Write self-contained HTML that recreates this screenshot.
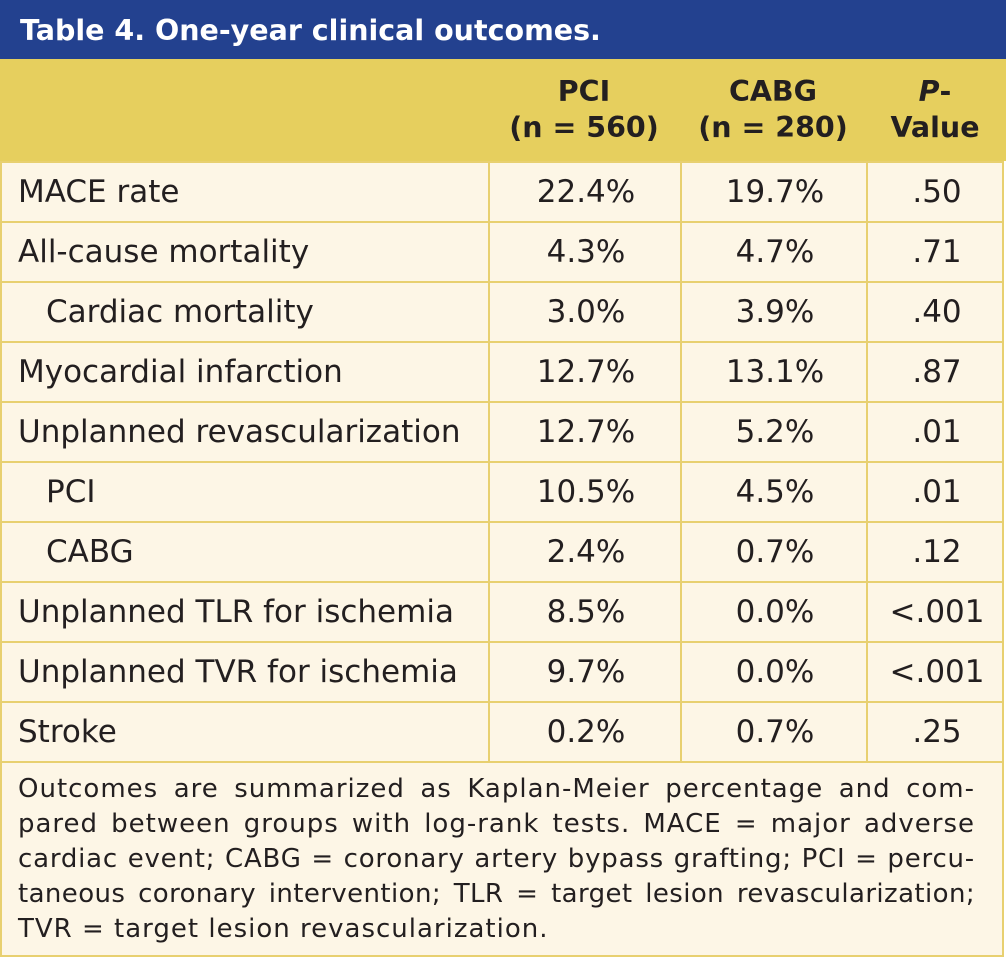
<!DOCTYPE html>
<html><head><meta charset="utf-8"><style>
body{margin:0;width:1006px;height:958px;background:#fff;font-family:"DejaVu Sans","Liberation Sans",sans-serif;color:#231f20;overflow:hidden}
#t{position:absolute;left:0;top:0;width:1004px;height:957px;background:#fdf6e6;border-right:2px solid #e8d070;border-bottom:2px solid #e8d070;box-sizing:border-box}
.title{position:absolute;left:0;top:0;width:1006px;height:59px;background:#23418f;color:#fff;font-weight:bold;font-size:28.5px;line-height:62px;padding-left:20px;box-sizing:border-box}
.head{position:absolute;left:0;top:59px;width:1006px;height:102px;background:#e6cf5e}
.h{position:absolute;top:74px;font-weight:bold;font-size:28.5px;line-height:36px;text-align:center}
.row{position:absolute;left:0;width:1004px;height:60px;border-top:2px solid #e8d070;box-sizing:border-box;font-size:31px;line-height:58px}
.row div{position:absolute;top:0;height:58px}
.c0{left:18px}
.c1,.c2,.c3{text-align:center;border-left:2px solid #e8d070}
.c1{left:488px;width:192px}.c2{left:680px;width:186px}.c3{left:866px;width:138px}
.note{position:absolute;left:18px;top:772px;width:957px;font-size:26px;line-height:35px;letter-spacing:1px}
.note div{white-space:nowrap;text-align:justify;text-align-last:justify}
.note div.last{text-align:left;text-align-last:left}
.lb{position:absolute;left:0;top:161px;width:2px;height:796px;background:#e8d070}
</style></head><body>
<div id="t">
<div class="title">Table 4. One-year clinical outcomes.</div>
<div class="head"></div>
<div class="h" style="left:488px;width:192px">PCI<br>(n = 560)</div>
<div class="h" style="left:680px;width:186px">CABG<br>(n = 280)</div>
<div class="h" style="left:866px;width:138px"><i>P</i>-<br>Value</div>
<div class="lb"></div>
<div class="row" style="top:161px"><div class="c0">MACE rate</div><div class="c1">22.4%</div><div class="c2">19.7%</div><div class="c3">.50</div></div>
<div class="row" style="top:221px"><div class="c0">All-cause mortality</div><div class="c1">4.3%</div><div class="c2">4.7%</div><div class="c3">.71</div></div>
<div class="row" style="top:281px"><div class="c0" style="left:46px">Cardiac mortality</div><div class="c1">3.0%</div><div class="c2">3.9%</div><div class="c3">.40</div></div>
<div class="row" style="top:341px"><div class="c0">Myocardial infarction</div><div class="c1">12.7%</div><div class="c2">13.1%</div><div class="c3">.87</div></div>
<div class="row" style="top:401px"><div class="c0">Unplanned revascularization</div><div class="c1">12.7%</div><div class="c2">5.2%</div><div class="c3">.01</div></div>
<div class="row" style="top:461px"><div class="c0" style="left:46px">PCI</div><div class="c1">10.5%</div><div class="c2">4.5%</div><div class="c3">.01</div></div>
<div class="row" style="top:521px"><div class="c0" style="left:46px">CABG</div><div class="c1">2.4%</div><div class="c2">0.7%</div><div class="c3">.12</div></div>
<div class="row" style="top:581px"><div class="c0">Unplanned TLR for ischemia</div><div class="c1">8.5%</div><div class="c2">0.0%</div><div class="c3">&lt;.001</div></div>
<div class="row" style="top:641px"><div class="c0">Unplanned TVR for ischemia</div><div class="c1">9.7%</div><div class="c2">0.0%</div><div class="c3">&lt;.001</div></div>
<div class="row" style="top:701px"><div class="c0">Stroke</div><div class="c1">0.2%</div><div class="c2">0.7%</div><div class="c3">.25</div></div>
<div class="row" style="top:761px;height:2px"></div>
<div class="note">
<div>Outcomes are summarized as Kaplan-Meier percentage and com-</div>
<div>pared between groups with log-rank tests. MACE = major adverse</div>
<div style="letter-spacing:0.8px">cardiac event; CABG = coronary artery bypass grafting; PCI = percu-</div>
<div style="letter-spacing:0.4px">taneous coronary intervention; TLR = target lesion revascularization;</div>
<div class="last">TVR = target lesion revascularization.</div>
</div>
</div>
</body></html>
